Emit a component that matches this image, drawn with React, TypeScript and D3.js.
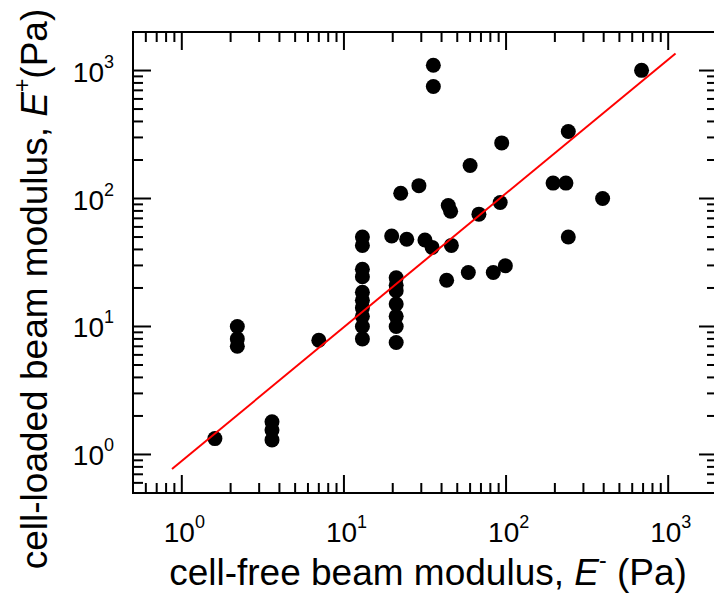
import * as d3 from 'd3';

// cell-free modulus E- (Pa) and cell-loaded modulus E+ (Pa)
const eMinus = [
  1.6, 3.6, 3.6, 3.6, 2.2, 2.2, 2.2, 7,
  13, 13, 13, 13, 13, 13, 13, 13, 13, 13,
  21, 21, 21, 21, 21, 21, 21,
  19.7, 24.4, 31.6, 35, 22.4, 29, 35.6, 35.6,
  44, 45.5, 46, 43, 60, 68, 58.5, 83.4, 99, 92, 94,
  195, 234, 242, 242, 394, 685,
];
const ePlus = [
  1.33, 1.8, 1.55, 1.3, 10, 8, 7, 7.8,
  50, 43, 28, 24.5, 18.5, 16, 14, 12, 10, 8,
  24, 21, 19, 15, 12, 10, 7.5,
  51, 48, 47.4, 41.5, 110, 126, 1100, 750,
  88, 79.5, 43, 23, 181, 75.5, 26.4, 26.4, 29.8, 93, 272,
  132, 132, 334, 50, 100, 1003,
];
// fit line ends
const fitX = [0.87, 1110];
const fitY = [0.77, 1360];
const decades = [1, 10, 100, 1000];
const decadeExp = ['0', '1', '2', '3'];

const W = 714;
const H = 593;
const left = 133;
const right = 717;
const top = 32;
const bottom = 493;
const font = 'Liberation Sans, Arial, sans-serif';

export default function App() {
  const x = d3.scaleLog().domain([0.5, 2000]).range([left, right]);
  const y = d3.scaleLog().domain([0.5, 2000]).range([bottom, top]);

  const isMajor = (v: number) => decades.some((d) => Math.abs(d - v) < 1e-9);
  const xt = x.ticks().filter((v) => v > 0.5 && v < 2000);
  const yt = y.ticks().filter((v) => v > 0.5 && v < 2000);
  const big = 18;
  const small = 10;

  const line = d3
    .line<number>()
    .x((d, i) => x(fitX[i]))
    .y((d, i) => y(fitY[i]));

  return (
    <svg width={W} height={H} style={{ position: 'absolute', left: 0, top: 0 }} fontFamily={font}>
      <rect width={W} height={H} fill="#fff" />
      {/* ticks */}
      <g stroke="#000" strokeWidth={2}>
        {xt.map((v, i) => {
          const len = isMajor(v) ? big : small;
          return (
            <g key={'x' + i}>
              <line x1={x(v)} x2={x(v)} y1={bottom} y2={bottom - len} />
              <line x1={x(v)} x2={x(v)} y1={top} y2={top + len} />
            </g>
          );
        })}
        {yt.map((v, i) => {
          const len = isMajor(v) ? big : small;
          return (
            <g key={'y' + i}>
              <line x1={left} x2={left + len} y1={y(v)} y2={y(v)} />
              <line x1={right} x2={right - len} y1={y(v)} y2={y(v)} />
            </g>
          );
        })}
      </g>
      <rect x={left} y={top} width={right - left} height={bottom - top} fill="none" stroke="#000" strokeWidth={2} />

      {/* points */}
      <g fill="#000">
        {eMinus.map((v, i) => (
          <circle key={i} cx={x(v)} cy={y(ePlus[i])} r={7.5} />
        ))}
      </g>
      <path d={line(fitX) || ''} stroke="#ff0000" strokeWidth={2} fill="none" />

      {/* tick labels */}
      <g fontSize={28} fill="#000">
        {decades.map((d, i) => (
          <text key={'xl' + i} x={x(d) - 18} y={542}>
            10<tspan fontSize={18} dy={-14}>{decadeExp[i]}</tspan>
          </text>
        ))}
        {decades.map((d, i) => (
          <text key={'yl' + i} x={114} y={y(d) + 11} textAnchor="end">
            10<tspan fontSize={18} dy={-14}>{decadeExp[i]}</tspan>
          </text>
        ))}
      </g>

      {/* axis titles */}
      <text x={428} y={585} fontSize={37} textAnchor="middle">
        cell-free beam modulus, <tspan fontStyle="italic">E</tspan>
        <tspan fontSize={23} dy={-17}>-</tspan>
        <tspan dy={17}> (Pa)</tspan>
      </text>
      <text transform="translate(47,289) rotate(-90)" fontSize={37} textAnchor="middle">
        cell-loaded beam modulus, <tspan fontStyle="italic">E</tspan>
        <tspan fontSize={23} dy={-17}>+</tspan>
        <tspan dy={17}>(Pa)</tspan>
      </text>
    </svg>
  );
}
